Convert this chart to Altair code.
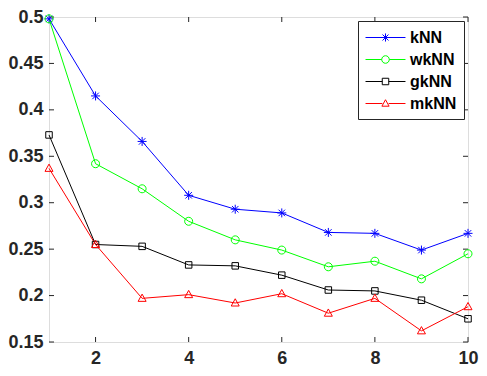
import altair as alt
import pandas as pd

# ---- data ----
x_vals = [1, 2, 3, 4, 5, 6, 7, 8, 9, 10]
series_names = ["kNN", "wkNN", "gkNN", "mkNN"]
knn = [0.498, 0.415, 0.366, 0.308, 0.293, 0.289, 0.268, 0.267, 0.249, 0.267]
wknn = [0.498, 0.342, 0.315, 0.280, 0.260, 0.249, 0.231, 0.237, 0.218, 0.245]
gknn = [0.373, 0.255, 0.253, 0.233, 0.232, 0.222, 0.206, 0.205, 0.195, 0.175]
mknn = [0.337, 0.255, 0.197, 0.201, 0.192, 0.202, 0.181, 0.197, 0.162, 0.188]
x_ticks = [2, 4, 6, 8, 10]
y_ticks = [0.15, 0.2, 0.25, 0.3, 0.35, 0.4, 0.45, 0.5]

colors = ["#0000FF", "#00FF00", "#000000", "#FF0000"]

# marker shapes (unit box -1..1)
star = "M0,-0.9V0.9M-0.9,0H0.9M-0.65,-0.65L0.65,0.65M-0.65,0.65L0.65,-0.65"
circ = "M0.8,0A0.8,0.8 0 1,1 -0.8,0A0.8,0.8 0 1,1 0.8,0Z"
sq = "M-0.65,-0.65H0.65V0.65H-0.65Z"
tri = "M0,-0.85L0.8,0.6L-0.8,0.6Z"
plot_shapes = [star, circ, sq, tri]

# legend symbols: line segment (+-2.22 units = 40px at 18px symbol) plus marker
l_star = "M0,-0.45V0.45M-0.45,0H0.45M-0.33,-0.33L0.33,0.33M-0.33,0.33L0.33,-0.33"
l_circ = "M0.42,0A0.42,0.42 0 1,1 -0.42,0A0.42,0.42 0 1,1 0.42,0Z"
l_sq = "M-0.36,-0.36H0.36V0.36H-0.36Z"
l_tri = "M0,-0.42L0.4,0.3L-0.4,0.3Z"
legend_shapes = ["M-2.22,0H2.22" + l_star,
                 "M-2.22,0H-0.42M0.42,0H2.22" + l_circ,
                 "M-2.22,0H-0.36M0.36,0H2.22" + l_sq,
                 "M-2.22,0H-0.35M0.35,0H2.22" + l_tri]

rows = []
for name, vals in zip(series_names, [knn, wknn, gknn, mknn]):
    for xv, yv in zip(x_vals, vals):
        rows.append({"x": xv, "y": yv, "series": name})
df = pd.DataFrame(rows)

W, H = 419, 325
TICK = 5
AX = "#262626"
FONT = "Liberation Sans"

xs = alt.Scale(domain=[1, 10], nice=False, zero=False)
ys = alt.Scale(domain=[0.15, 0.5], nice=False, zero=False)

x_axis = alt.Axis(values=x_ticks, domain=False, ticks=False, grid=False, title=None,
                  labelFont=FONT, labelFontSize=18, labelFontWeight="bold",
                  labelColor=AX, labelPadding=7, labelFlush=False)
y_axis = alt.Axis(values=y_ticks, domain=False, ticks=False, grid=False, title=None,
                  format=".2~f",
                  labelFont=FONT, labelFontSize=18, labelFontWeight="bold",
                  labelColor=AX, labelPadding=6, labelFlush=False)

base = alt.Chart(df)

color_nolegend = alt.Color("series:N", scale=alt.Scale(domain=series_names, range=colors), legend=None)

lines = base.mark_line(strokeWidth=1).encode(
    x=alt.X("x:Q", scale=xs, axis=x_axis),
    y=alt.Y("y:Q", scale=ys, axis=y_axis),
    color=color_nolegend,
    detail="series:N",
)

points = base.mark_point(filled=False, strokeWidth=1, size=100, opacity=1).encode(
    x=alt.X("x:Q", scale=xs),
    y=alt.Y("y:Q", scale=ys),
    color=color_nolegend,
    shape=alt.Shape("series:N", scale=alt.Scale(domain=series_names, range=plot_shapes), legend=None),
)

legend_layer = base.mark_point(filled=False, strokeWidth=1, opacity=0).encode(
    x=alt.X("x:Q", scale=xs),
    y=alt.Y("y:Q", scale=ys),
    color=alt.Color("series:N", scale=alt.Scale(domain=series_names, range=colors),
                    legend=alt.Legend(title=None, orient="none", legendX=309, legendY=4,
                                      symbolSize=324, symbolStrokeWidth=1,
                                      symbolOpacity=1, symbolOffset=11, labelOffset=15,
                                      labelFont=FONT, labelFontSize=16,
                                      labelFontWeight="bold", labelColor="#000000",
                                      fillColor="white", strokeColor=AX,
                                      padding=7, rowPadding=4)),
    shape=alt.Shape("series:N", scale=alt.Scale(domain=series_names, range=legend_shapes)),
)

tick_df_x = pd.DataFrame({"t": x_ticks})
tick_df_y = pd.DataFrame({"t": y_ticks})

xt_bottom = alt.Chart(tick_df_x).mark_rule(color=AX, strokeWidth=1).encode(
    x=alt.X("t:Q", scale=xs), y=alt.value(H), y2=alt.value(H - TICK))
xt_top = alt.Chart(tick_df_x).mark_rule(color=AX, strokeWidth=1).encode(
    x=alt.X("t:Q", scale=xs), y=alt.value(0), y2=alt.value(TICK))
yt_left = alt.Chart(tick_df_y).mark_rule(color=AX, strokeWidth=1).encode(
    y=alt.Y("t:Q", scale=ys), x=alt.value(0), x2=alt.value(TICK))
yt_right = alt.Chart(tick_df_y).mark_rule(color=AX, strokeWidth=1).encode(
    y=alt.Y("t:Q", scale=ys), x=alt.value(W - TICK), x2=alt.value(W))

chart = alt.layer(
    xt_bottom, xt_top, yt_left, yt_right, lines, points, legend_layer
).resolve_scale(
    color="independent", shape="independent"
).properties(
    width=W, height=H,
    autosize=alt.AutoSizeParams(type="none"),
    padding={"left": 41, "top": 9, "right": 11, "bottom": 25},
).configure_view(
    stroke=AX, strokeWidth=1
).configure(background="white")

chart.save("out.html", embed_options={"renderer": "svg", "actions": False})
